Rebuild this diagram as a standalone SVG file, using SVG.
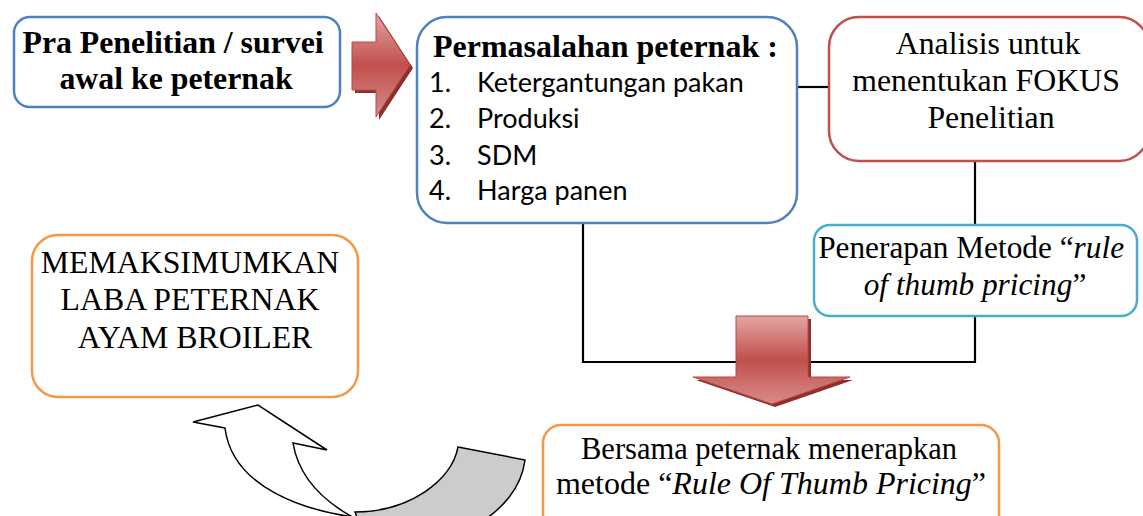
<svg xmlns="http://www.w3.org/2000/svg" width="1143" height="516" viewBox="0 0 1143 516">
  <defs>
    <linearGradient id="redFill" x1="0" y1="0" x2="0" y2="1">
      <stop offset="0" stop-color="#e3a5a3"/>
      <stop offset="0.5" stop-color="#c0504d"/>
      <stop offset="1" stop-color="#d88c8a"/>
    </linearGradient>
    <style>
      .box { fill: #ffffff; stroke-width: 2.5; }
      .blue { stroke: #4f81bd; }
      .red { stroke: #c0504d; }
      .teal { stroke: #4bacc6; }
      .orange { stroke: #f79646; }
      .serif { font-family: "Liberation Serif", "Times New Roman", serif; fill: #000; }
      .bold { font-weight: bold; }
      .sans { font-family: Lato, "Open Sans", sans-serif; fill: #000; font-size: 27px; }
      .wire { fill: none; stroke: #000; stroke-width: 2.2; }
      .arrow { fill: url(#redFill); stroke: #b84a47; stroke-width: 1; }
      .shadow { fill: #8e2f2d; }
      .band { stroke: #000; stroke-width: 1.5; stroke-linejoin: miter; }
    </style>
  </defs>

  <!-- connectors -->
  <g id="connectors">
    <line class="wire" x1="797" y1="87" x2="829" y2="87"/>
    <line class="wire" x1="975" y1="161" x2="975" y2="225"/>
    <polyline class="wire" points="975,316 975,362 583,362 583,223"/>
  </g>

  <!-- start box -->
  <g id="node-pra">
    <rect class="box blue" x="14" y="17" width="326" height="90" rx="16"/>
    <text class="serif bold" font-size="31.8" text-anchor="middle">
      <tspan x="177" y="53">Pra Penelitian / survei</tspan>
      <tspan x="176" y="89">awal ke peternak</tspan>
    </text>
  </g>

  <!-- right arrow -->
  <g id="arrow-right">
    <path class="shadow" d="M355,45 L379,45 L379,16 L413,68 L379,120 L379,93 L355,93 Z"/>
    <path class="arrow" d="M352,42 L376,42 L376,13 L410,65 L376,117 L376,90 L352,90 Z"/>
  </g>

  <!-- problems box -->
  <g id="node-permasalahan">
    <rect class="box blue" x="417" y="17" width="380" height="206" rx="30"/>
    <text class="serif bold" font-size="32" x="433" y="57">Permasalahan peternak :</text>
    <text class="sans">
      <tspan x="429" y="92">1.</tspan><tspan x="477" y="92">Ketergantungan pakan</tspan>
      <tspan x="429" y="128">2.</tspan><tspan x="477" y="128">Produksi</tspan>
      <tspan x="429" y="165">3.</tspan><tspan x="477" y="165">SDM</tspan>
      <tspan x="429" y="200">4.</tspan><tspan x="477" y="200">Harga panen</tspan>
    </text>
  </g>

  <!-- analysis box -->
  <g id="node-analisis">
    <rect class="box red" x="829" y="17" width="320" height="144" rx="30"/>
    <text class="serif" font-size="31.8" text-anchor="middle">
      <tspan x="992" y="54">Analisis untuk</tspan>
      <tspan x="990" y="91">menentukan FOKUS</tspan>
      <tspan x="991" y="128">Penelitian</tspan>
    </text>
  </g>

  <!-- method box -->
  <g id="node-penerapan">
    <rect class="box teal" x="814" y="225" width="323" height="91" rx="16"/>
    <text class="serif" font-size="31.3" text-anchor="middle">
      <tspan x="975" y="258">Penerapan Metode “<tspan font-style="italic">rule</tspan></tspan>
      <tspan x="975" y="295"><tspan font-style="italic">of thumb pricing</tspan>”</tspan>
    </text>
  </g>

  <!-- down arrow -->
  <g id="arrow-down">
    <path class="shadow" d="M739,319 L811,319 L811,380 L853,380 L775,407 L696,380 L739,380 Z"/>
    <path class="arrow" d="M736,316 L808,316 L808,377 L850,377 L772,404 L693,377 L736,377 Z"/>
  </g>

  <!-- goal box -->
  <g id="node-laba">
    <rect class="box orange" x="32" y="235" width="326" height="162" rx="26"/>
    <text class="serif" font-size="31.8" text-anchor="middle">
      <tspan x="194" y="273">MEMAKSIMUMKAN</tspan>
      <tspan x="194" y="310">LABA PETERNAK</tspan>
      <tspan x="195" y="348">AYAM BROILER</tspan>
    </text>
  </g>

  <!-- shared action box -->
  <g id="node-bersama">
    <rect class="box orange" x="543" y="425" width="456" height="110" rx="18"/>
    <text class="serif" text-anchor="middle">
      <tspan x="771" y="459" font-size="30.5">Bersama peternak menerapkan</tspan>
      <tspan x="771" y="494" font-size="32">metode “<tspan font-style="italic">Rule Of Thumb Pricing</tspan>”</tspan>
    </text>
  </g>

  <!-- curved return arrow -->
  <g id="arrow-curved">
    <path class="band" fill="#cccccc" d="M458,447 L525,460 C518,515 450,550 370,550 L355,512 C410,512 452,480 458,447 Z"/>
    <path class="band" fill="#ffffff" d="M225,428 L193,422 L258,405 L327,450 L293,443 C300,485 335,512 380,530 L380,520 C300,514 232,485 225,428 Z"/>
  </g>
</svg>
